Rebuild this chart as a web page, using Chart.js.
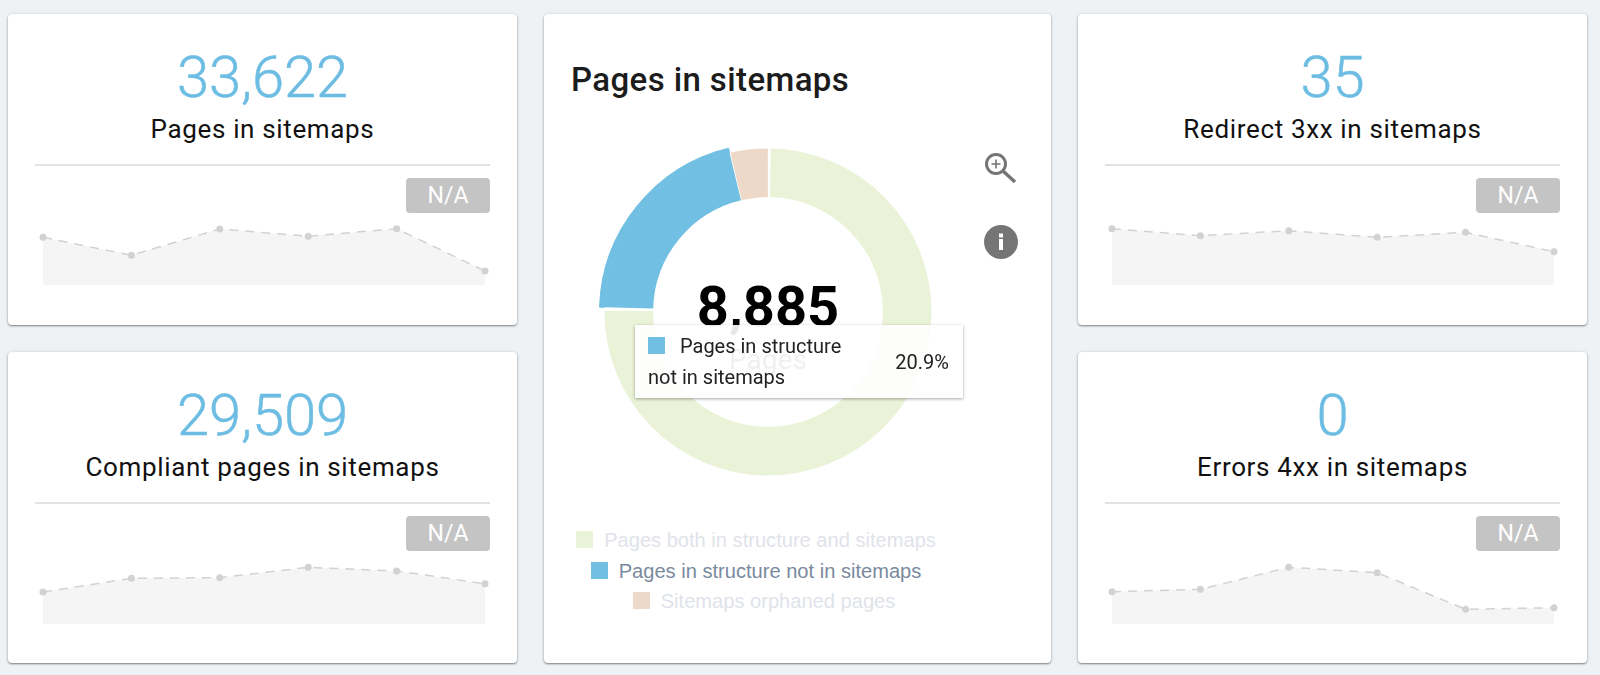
<!DOCTYPE html>
<html>
<head>
<meta charset="utf-8">
<title>Pages in sitemaps</title>
<script src="https://cdn.jsdelivr.net/npm/chart.js@4"></script>
<style>
  html, body { margin: 0; padding: 0; }
  body { width: 1600px; height: 675px; background: #eef2f5; overflow: hidden; position: relative; font-family: Roboto, sans-serif; }
  .card { position: absolute; background: #fff; border-radius: 4px; box-shadow: 0 1px 2px rgba(0,0,0,.45), 0 0 4px rgba(0,0,0,.08); }
  .big { position: absolute; left: 0; right: 0; text-align: center; font-weight: 300; font-size: 58px; line-height: 70px; top: 28px; color: #6dbde3; letter-spacing: -.2px; -webkit-text-stroke: .5px #6dbde3; }
  .label { position: absolute; left: 0; right: 0; text-align: center; font-size: 26px; line-height: 30px; top: 100px; color: #111; letter-spacing: .65px; }
  .rule { position: absolute; left: 27px; right: 27px; top: 150px; height: 2px; background: #e2e2e2; }
  .badge { position: absolute; right: 27px; top: 164px; width: 84px; height: 35px; line-height: 36px; border-radius: 4px; background: #c4c4c4; color: #fff; text-align: center; font-size: 23px; }
  canvas { position: absolute; }
  #title { position: absolute; left: 571px; top: 60px; font-size: 33px; font-weight: 500; line-height: 40px; color: #1c1c1c; letter-spacing: .4px; }
  #centerValue { position: absolute; left: 618px; width: 300px; top: 274px; text-align: center; font-size: 56px; font-weight: 700; line-height: 66px; color: #000; }
  #centerName { position: absolute; left: 618px; width: 300px; top: 342px; text-align: center; font-size: 28px; line-height: 36px; color: #666; }
  #tip { position: absolute; left: 635px; top: 325px; width: 328px; height: 73px; background: rgba(255,255,255,.9); box-shadow: 0 1px 3px rgba(0,0,0,.35); color: #222; font-size: 20px; }
  #tip i { position: absolute; left: 13px; top: 12px; width: 17px; height: 17px; background: #71bfe2; }
  #tip span { position: absolute; white-space: nowrap; line-height: 24px; }
  #legend { position: absolute; left: 544px; width: 424px; top: 527px; font-family: "Liberation Sans", Arial, sans-serif; font-size: 20.1px; }
  #legend div { height: 30.5px; line-height: 26px; text-align: center; white-space: nowrap; }
  #legend i { display: inline-block; width: 17px; height: 17px; margin-right: 11px; vertical-align: -1px; }
  svg { position: absolute; }
</style>
</head>
<body>
<script>
const months = ['1', '2', '3', '4', '5', '6']

// top cards
const cardNumbers = ['33,622', '29,509', '35', '0']
const cardNames = ['Pages in sitemaps', 'Compliant pages in sitemaps', 'Redirect 3xx in sitemaps', 'Errors 4xx in sitemaps']
const pagesTrend = [47.7, 29.7, 56, 48.7, 56.3, 14]
const compliantTrend = [32, 45.7, 46.3, 56.7, 53, 40.3]
const redirectTrend = [56.3, 49.3, 54.3, 47.7, 52.7, 33.3]
const errorsTrend = [32.3, 34.7, 56.7, 51.3, 14.7, 16.3]

// donut
const donutLabels = ['Pages both in structure and sitemaps', 'Pages in structure not in sitemaps', 'Sitemaps orphaned pages']
const donutValues = [32049, 8885, 1573]
const donutColors = ['#eaf2d7', '#71bfe2', '#eed9c8']
const legendTextColors = ['#dfe3ea', '#7a8a9e', '#dfe3ea']

const trends = [pagesTrend, compliantTrend, redirectTrend, errorsTrend]
const boxes = [
    { x: 8, y: 14, w: 509, h: 311, spark: 29, sparkTop: 195 },
    { x: 8, y: 352, w: 509, h: 311, spark: 29, sparkTop: 196 },
    { x: 1078, y: 14, w: 509, h: 311, spark: 28, sparkTop: 195 },
    { x: 1078, y: 352, w: 509, h: 311, spark: 28, sparkTop: 196 }
]

function sparkline(card, values, left, top) {
    const canvas = document.createElement('canvas')
    canvas.style.left = left + 'px'
    canvas.style.top = top + 'px'
    canvas.width = 454
    canvas.height = 82
    card.appendChild(canvas)
    new Chart(canvas, {
        type: 'line',
        data: {
            labels: months,
            datasets: [{
                data: values,
                borderColor: '#d2d2d2',
                borderWidth: 1.5,
                borderDash: [9, 7],
                backgroundColor: '#f5f5f5',
                fill: 'origin',
                tension: 0,
                clip: false,
                pointRadius: 3.5,
                pointBorderWidth: 0,
                pointBackgroundColor: '#d2d2d2'
            }]
        },
        options: {
            responsive: false,
            animation: false,
            layout: { padding: 6 },
            plugins: { legend: { display: false }, tooltip: { enabled: false } },
            scales: {
                x: { display: false },
                y: { display: false, min: 0, max: 70 }
            }
        }
    })
}

boxes.forEach((b, i) => {
    const card = document.createElement('div')
    card.className = 'card'
    card.style.cssText = `left:${b.x}px;top:${b.y}px;width:${b.w}px;height:${b.h}px`
    card.innerHTML = `<div class="big">${cardNumbers[i]}</div><div class="label">${cardNames[i]}</div><div class="rule"></div><div class="badge">N/A</div>`
    document.body.appendChild(card)
    sparkline(card, trends[i], b.spark, b.sparkTop)
})

// middle card
const mid = document.createElement('div')
mid.className = 'card'
mid.style.cssText = 'left:544px;top:14px;width:507px;height:649px'
document.body.appendChild(mid)
mid.insertAdjacentHTML('afterend', `
  <div id="title">Pages in sitemaps</div>
  <canvas id="donut" width="342" height="342" style="left:597px;top:141px"></canvas>
  <div id="centerValue">8,885</div>
  <div id="centerName">Pages</div>
  <div id="tip"><i></i>
    <span style="left:45px;top:9px">Pages in structure</span>
    <span style="left:13px;top:40px">not in sitemaps</span>
    <span style="right:14px;top:25px">20.9%</span>
  </div>
  <svg style="left:980px;top:148px" width="40" height="40" viewBox="0 0 40 40">
    <circle cx="16" cy="16" r="9.5" fill="none" stroke="#757575" stroke-width="3"/>
    <path d="M16 11.5v9M11.5 16h9" stroke="#757575" stroke-width="1.6"/>
    <path d="M23 23l12 11" stroke="#757575" stroke-width="3.5"/>
  </svg>
  <svg style="left:983px;top:224px" width="36" height="36" viewBox="0 0 36 36">
    <circle cx="18" cy="18" r="17" fill="#757575"/>
    <rect x="16" y="15" width="4" height="11" fill="#fff"/>
    <rect x="16" y="9.5" width="4" height="4" fill="#fff"/>
  </svg>
  <div id="legend"></div>`)

donutLabels.forEach((name, i) => {
    const row = document.createElement('div')
    row.innerHTML = `<i style="background:${donutColors[i]}"></i><span style="color:${legendTextColors[i]}">${name}</span>`
    if (i === 2) row.style.marginLeft = '16px'
    document.querySelector('#legend').appendChild(row)
})

// outer thin ring only shows the hovered slice, so it sticks out past the others
new Chart(document.querySelector('#donut'), {
    type: 'doughnut',
    data: {
        labels: donutLabels,
        datasets: [
            {
                data: donutValues,
                backgroundColor: ['transparent', donutColors[1], 'transparent'],
                borderColor: ['transparent', donutColors[1], 'transparent'],
                borderWidth: [0, 1, 0],
                spacing: 2,
                weight: 5
            },
            {
                data: donutValues,
                backgroundColor: donutColors,
                borderWidth: 0,
                spacing: 2,
                weight: 49
            }
        ]
    },
    options: {
        responsive: false,
        animation: false,
        cutout: '68%',
        layout: { padding: 2 },
        plugins: { legend: { display: false }, tooltip: { enabled: false } }
    }
})
</script>
</body>
</html>
